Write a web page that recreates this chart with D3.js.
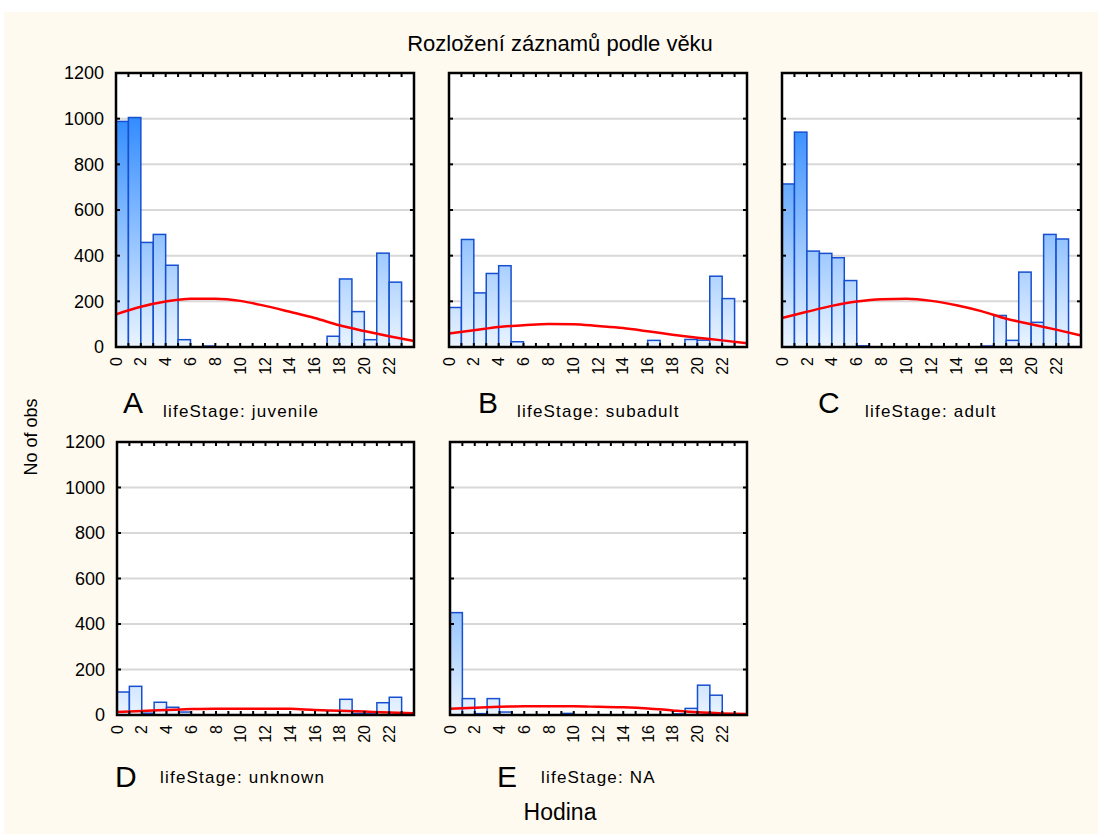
<!DOCTYPE html>
<html>
<head>
<meta charset="utf-8">
<script src="https://cdn.jsdelivr.net/npm/d3@7"></script>
<style>
  body { margin: 0; background: #fff; }
  svg { display: block; font-family: "Liberation Sans", Arial, sans-serif; }
  .grid line { stroke: #d8d8d8; stroke-width: 2; }
  .frame { fill: none; stroke: #000; stroke-width: 2.5; }
  .tick { stroke: #000; stroke-width: 2; }
</style>
</head>
<body>
<svg width="1098" height="834"></svg>
<script>
'use strict';

// counts per hour bin (0-1, 1-2, ... 23-24)
var hours = d3.range(24);
var juvenile = [988, 1005, 458, 493, 358, 32, 0, 4, 0, 0, 0, 0, 0, 0, 0, 0, 0, 47, 298, 155, 32, 411, 284, 0];
var subadult = [173, 471, 237, 322, 356, 23, 0, 0, 0, 0, 0, 0, 0, 0, 0, 0, 29, 0, 0, 33, 30, 310, 212, 0];
var adult = [714, 941, 420, 410, 391, 291, 5, 0, 0, 0, 0, 0, 0, 0, 0, 0, 4, 138, 29, 328, 108, 493, 473, 0];
var unknown = [101, 126, 8, 56, 34, 13, 0, 0, 0, 0, 0, 0, 0, 0, 0, 0, 0, 0, 69, 7, 5, 54, 78, 0];
var na = [450, 72, 6, 72, 13, 0, 0, 0, 0, 7, 0, 0, 0, 0, 0, 0, 0, 0, 5, 29, 131, 87, 0, 0];

// fitted normal curve, read at even hours
var fitHours = [0, 2, 4, 6, 8, 10, 12, 14, 16, 18, 20, 22, 24];
var juvenileFit = [143, 176, 199, 211, 211, 202, 180, 154, 127, 95, 70, 47, 26];
var subadultFit = [59, 73, 88, 95, 101, 100, 92, 83, 69, 54, 41, 29, 16];
var adultFit = [127, 154, 180, 199, 209, 211, 202, 183, 157, 124, 100, 76, 50];
var unknownFit = [13, 18, 22, 26, 28, 28, 28, 27, 22, 19, 15, 11, 8];
var naFit = [27, 32, 36, 38, 38, 38, 36, 34, 29, 20, 12, 7, 4];

var yTicks = [0, 200, 400, 600, 800, 1000, 1200];
var xTicks = [0, 2, 4, 6, 8, 10, 12, 14, 16, 18, 20, 22];
var letters = ['A', 'B', 'C', 'D', 'E'];
var stageNames = ['juvenile', 'subadult', 'adult', 'unknown', 'NA'];

var title = 'Rozložení záznamů podle věku';
var yTitle = 'No of obs';
var xTitle = 'Hodina';

var panels = [
  { counts: juvenile, fit: juvenileFit, x0: 116, x1: 414, y0: 73, y1: 347, yLabels: true, lx: 123, tx: 163, ly: 413, ty: 417 },
  { counts: subadult, fit: subadultFit, x0: 449, x1: 747, y0: 73, y1: 347, yLabels: false, lx: 478, tx: 517, ly: 413, ty: 417 },
  { counts: adult, fit: adultFit, x0: 782, x1: 1081, y0: 73, y1: 347, yLabels: false, lx: 818, tx: 865, ly: 413, ty: 417 },
  { counts: unknown, fit: unknownFit, x0: 117, x1: 414, y0: 442, y1: 715, yLabels: true, lx: 115, tx: 160, ly: 787, ty: 783 },
  { counts: na, fit: naFit, x0: 450, x1: 747, y0: 442, y1: 715, yLabels: false, lx: 497, tx: 541, ly: 787, ty: 783 }
];

var svg = d3.select('svg');

svg.append('rect')
  .attr('x', 4).attr('y', 12)
  .attr('width', 1094).attr('height', 822)
  .attr('fill', '#fffaf0');

svg.append('text')
  .attr('x', 560).attr('y', 51)
  .attr('text-anchor', 'middle')
  .attr('font-size', 22)
  .text(title);

svg.append('text')
  .attr('transform', 'translate(37,437) rotate(-90)')
  .attr('text-anchor', 'middle')
  .attr('font-size', 18)
  .text(yTitle);

svg.append('text')
  .attr('x', 560).attr('y', 820)
  .attr('text-anchor', 'middle')
  .attr('font-size', 23)
  .text(xTitle);

var defs = svg.append('defs');

panels.forEach(function (p, i) {
  var x = d3.scaleLinear().domain([0, 24]).range([p.x0, p.x1]);
  var y = d3.scaleLinear().domain([0, 1200]).range([p.y1, p.y0]);

  // gradient spans the whole value range, so tall bars get darker tops
  var grad = defs.append('linearGradient')
    .attr('id', 'bar' + i)
    .attr('gradientUnits', 'userSpaceOnUse')
    .attr('x1', 0).attr('x2', 0)
    .attr('y1', y(0)).attr('y2', y(1200));
  grad.append('stop').attr('offset', 0).attr('stop-color', '#eaf4ff');
  grad.append('stop').attr('offset', 1).attr('stop-color', '#0f78ff');

  var g = svg.append('g');

  g.append('rect')
    .attr('x', p.x0).attr('y', p.y0)
    .attr('width', p.x1 - p.x0).attr('height', p.y1 - p.y0)
    .attr('fill', '#fff');

  g.append('g').attr('class', 'grid')
    .selectAll('line')
    .data(yTicks.slice(1, -1))
    .enter().append('line')
    .attr('x1', p.x0).attr('x2', p.x1)
    .attr('y1', function (d) { return y(d); })
    .attr('y2', function (d) { return y(d); });

  g.append('g')
    .selectAll('rect')
    .data(hours.filter(function (h) { return p.counts[h] > 0; }))
    .enter().append('rect')
    .attr('x', function (h) { return x(h); })
    .attr('y', function (h) { return y(p.counts[h]); })
    .attr('width', function (h) { return x(h + 1) - x(h); })
    .attr('height', function (h) { return y(0) - y(p.counts[h]); })
    .attr('fill', 'url(#bar' + i + ')')
    .attr('stroke', '#1650d0')
    .attr('stroke-width', 1.5);

  var line = d3.line()
    .x(function (d, j) { return x(fitHours[j]); })
    .y(function (d) { return y(d); })
    .curve(d3.curveMonotoneX);

  g.append('path')
    .datum(p.fit)
    .attr('d', line)
    .attr('fill', 'none')
    .attr('stroke', '#ff0000')
    .attr('stroke-width', 2.5);

  // inward ticks on all four sides
  var ticks = g.append('g');
  d3.range(1, 24).forEach(function (h) {
    ticks.append('line').attr('class', 'tick')
      .attr('x1', x(h)).attr('x2', x(h)).attr('y1', p.y0).attr('y2', p.y0 + 4);
    ticks.append('line').attr('class', 'tick')
      .attr('x1', x(h)).attr('x2', x(h)).attr('y1', p.y1).attr('y2', p.y1 - 4);
  });
  yTicks.slice(1, -1).forEach(function (v) {
    ticks.append('line').attr('class', 'tick')
      .attr('x1', p.x0).attr('x2', p.x0 + 4).attr('y1', y(v)).attr('y2', y(v));
    ticks.append('line').attr('class', 'tick')
      .attr('x1', p.x1).attr('x2', p.x1 - 4).attr('y1', y(v)).attr('y2', y(v));
  });

  g.append('rect').attr('class', 'frame')
    .attr('x', p.x0).attr('y', p.y0)
    .attr('width', p.x1 - p.x0).attr('height', p.y1 - p.y0);

  if (p.yLabels) {
    g.append('g')
      .selectAll('text')
      .data(yTicks)
      .enter().append('text')
      .attr('x', p.x0 - 12)
      .attr('y', function (d) { return y(d); })
      .attr('dy', '0.35em')
      .attr('text-anchor', 'end')
      .attr('font-size', 18)
      .text(function (d) { return d; });
  }

  g.append('g')
    .selectAll('text')
    .data(xTicks)
    .enter().append('text')
    .attr('transform', function (d) { return 'translate(' + x(d) + ',' + (p.y1 + 10) + ') rotate(-90)'; })
    .attr('dy', '0.35em')
    .attr('text-anchor', 'end')
    .attr('font-size', 16)
    .text(function (d) { return d; });

  g.append('text')
    .attr('x', p.lx).attr('y', p.ly)
    .attr('font-size', 30)
    .text(letters[i]);

  g.append('text')
    .attr('x', p.tx).attr('y', p.ty)
    .attr('font-size', 17)
    .attr('letter-spacing', 1.2)
    .text('lifeStage: ' + stageNames[i]);
});
</script>
</body>
</html>
